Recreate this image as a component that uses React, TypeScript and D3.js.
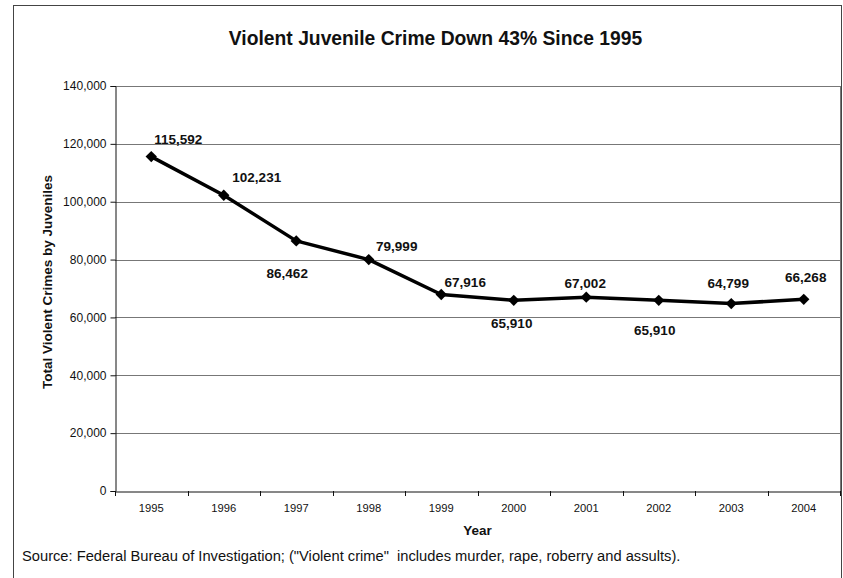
import React, { useEffect, useRef } from "react";
import * as d3 from "d3";

const YEARS = ["1995", "1996", "1997", "1998", "1999", "2000", "2001", "2002", "2003", "2004"];
const CRIMES = [115592, 102231, 86462, 79999, 67916, 65910, 67002, 65910, 64799, 66268];
const Y_TICKS = [0, 20000, 40000, 60000, 80000, 100000, 120000, 140000];

const TITLE = "Violent Juvenile Crime Down 43% Since 1995";
const Y_TITLE = "Total Violent Crimes by Juveniles";
const X_TITLE = "Year";
const SOURCE = 'Source: Federal Bureau of Investigation; ("Violent crime"  includes murder, rape, roberry and assults).';

// label placement relative to each point (dx, dy of label center)
const LABEL_OFFSETS: [number, number][] = [
  [27, -17], [33, -18], [-9, 32], [28, -13], [24, -12],
  [-2, 23], [-1, -14], [-4, 30], [-3, -20], [2, -22],
];

const W = 843;
const H = 578;
const M = { left: 115, right: 840, top: 86, bottom: 491 };
const FONT = "Arial, 'Liberation Sans', Helvetica, sans-serif";

export default function App() {
  const ref = useRef<SVGSVGElement>(null);

  useEffect(() => {
    const svg = d3.select(ref.current);
    svg.selectAll("*").remove();

    const x = d3.scaleBand<string>().domain(YEARS).range([M.left, M.right]);
    const y = d3.scaleLinear().domain([0, 140000]).range([M.bottom, M.top]);

    // outer frame
    svg.append("rect")
      .attr("x", 13.5).attr("y", 5.5)
      .attr("width", 828).attr("height", 600)
      .attr("fill", "none").attr("stroke", "#444").attr("stroke-width", 1);

    // gridlines
    svg.append("g")
      .selectAll("line")
      .data(Y_TICKS.filter((t) => t > 0))
      .join("line")
      .attr("x1", M.left).attr("x2", M.right)
      .attr("y1", (d) => Math.round(y(d)) + 0.5).attr("y2", (d) => Math.round(y(d)) + 0.5)
      .attr("stroke", "#777").attr("stroke-width", 1);

    // right border of plot area
    svg.append("line")
      .attr("x1", M.right + 0.5).attr("x2", M.right + 0.5)
      .attr("y1", M.top).attr("y2", M.bottom)
      .attr("stroke", "#777");

    // y axis
    const yAxis = d3.axisLeft(y).tickValues(Y_TICKS).tickSize(5).tickPadding(4)
      .tickFormat((d) => d3.format(",")(d as number));
    const gy = svg.append("g").attr("transform", `translate(${M.left + 0.5},0)`).call(yAxis);
    gy.select(".domain").attr("stroke", "#111");
    gy.selectAll(".tick line").attr("stroke", "#111");
    gy.selectAll(".tick text")
      .attr("font-family", FONT).attr("font-size", 12).attr("fill", "#111");

    // x axis
    const xb = d3.axisBottom(x).tickSize(0).tickPadding(13);
    const gx = svg.append("g").attr("transform", `translate(0,${M.bottom + 0.5})`).call(xb);
    gx.select(".domain").attr("stroke", "#111");
    gx.selectAll(".tick text")
      .attr("font-family", FONT).attr("font-size", 11.2).attr("fill", "#111");
    // ticks between categories
    const bounds = YEARS.map((yr) => x(yr) as number).concat([M.right]);
    svg.append("g")
      .selectAll("line")
      .data(bounds)
      .join("line")
      .attr("x1", (d) => Math.round(d) + 0.5).attr("x2", (d) => Math.round(d) + 0.5)
      .attr("y1", M.bottom).attr("y2", M.bottom + 5)
      .attr("stroke", "#111");

    const cx = (i: number) => (x(YEARS[i]) as number) + x.bandwidth() / 2;

    // line
    const line = d3.line<number>()
      .x((_, i) => cx(i))
      .y((d) => y(d));
    svg.append("path")
      .datum(CRIMES)
      .attr("d", line)
      .attr("fill", "none")
      .attr("stroke", "#000")
      .attr("stroke-width", 3.5)
      .attr("stroke-linejoin", "round");

    // markers
    const sym = d3.symbol().type(d3.symbolSquare).size(64);
    svg.append("g")
      .selectAll("path")
      .data(CRIMES)
      .join("path")
      .attr("d", sym)
      .attr("transform", (d, i) => `translate(${cx(i)},${y(d)}) rotate(45)`)
      .attr("fill", "#000");

    // data labels
    svg.append("g")
      .selectAll("text")
      .data(CRIMES)
      .join("text")
      .attr("x", (_, i) => cx(i) + LABEL_OFFSETS[i][0])
      .attr("y", (d, i) => y(d) + LABEL_OFFSETS[i][1])
      .attr("dy", "0.35em")
      .attr("text-anchor", "middle")
      .attr("font-family", FONT)
      .attr("font-size", 13.5)
      .attr("font-weight", "bold")
      .attr("fill", "#111")
      .text((d) => d3.format(",")(d));

    // title
    svg.append("text")
      .attr("x", 435.5).attr("y", 45)
      .attr("text-anchor", "middle")
      .attr("font-family", FONT).attr("font-size", 19.3).attr("font-weight", "bold")
      .attr("fill", "#111")
      .text(TITLE);

    // y title
    svg.append("text")
      .attr("transform", `translate(52,${282}) rotate(-90)`)
      .attr("text-anchor", "middle")
      .attr("font-family", FONT).attr("font-size", 13.5).attr("font-weight", "bold")
      .attr("fill", "#111")
      .text(Y_TITLE);

    // x title
    svg.append("text")
      .attr("x", (M.left + M.right) / 2).attr("y", 535)
      .attr("text-anchor", "middle")
      .attr("font-family", FONT).attr("font-size", 13.5).attr("font-weight", "bold")
      .attr("fill", "#111")
      .text(X_TITLE);

    // source
    svg.append("text")
      .attr("x", 22).attr("y", 561)
      .attr("font-family", FONT).attr("font-size", 14.7)
      .attr("fill", "#111")
      .style("white-space", "pre")
      .text(SOURCE);
  }, []);

  return (
    <svg
      ref={ref}
      width={W}
      height={H}
      style={{ position: "absolute", left: 0, top: 0, background: "#fff" }}
    />
  );
}
